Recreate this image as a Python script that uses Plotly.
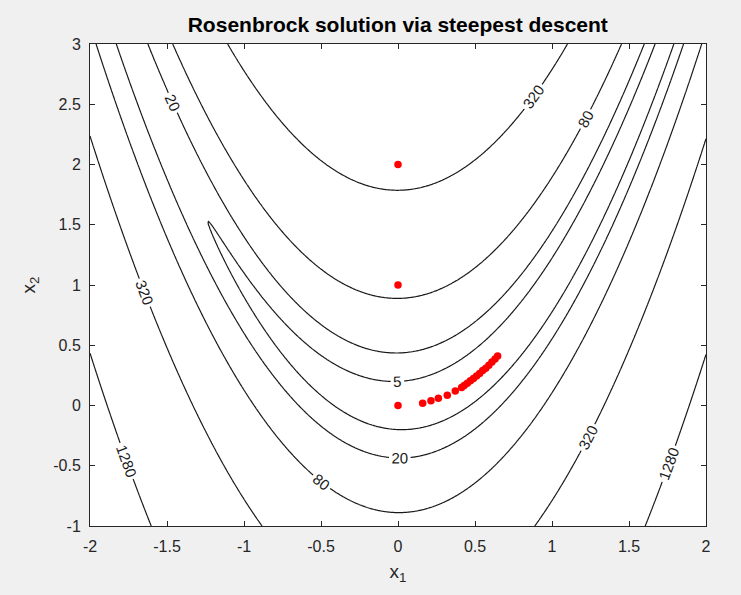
import numpy as np
import plotly.graph_objects as go

# Contour levels of the Rosenbrock function shown in the chart
levels = [5, 20, 80, 320, 1280]

# Grid for the Rosenbrock surface
x1_grid = np.linspace(-2, 2, 401)
x2_grid = np.linspace(-1, 3, 401)
X1, X2 = np.meshgrid(x1_grid, x2_grid)
Z = 100 * (X2 - X1 ** 2) ** 2 + (1 - X1) ** 2

# Red points
pts_x1 = [0.0, 0.0, 0.0, 0.16, 0.214, 0.262, 0.32, 0.372, 0.413,
          0.43, 0.45, 0.47, 0.49, 0.51, 0.53, 0.55, 0.57, 0.59, 0.61, 0.63, 0.647]
pts_x2 = [2.0, 1.0, 0.0, 0.018, 0.04, 0.06, 0.085, 0.12, 0.15,
          0.165, 0.185, 0.205, 0.225, 0.245, 0.265, 0.29, 0.31, 0.335, 0.36, 0.385, 0.41]

x_ticks = [-2, -1.5, -1, -0.5, 0, 0.5, 1, 1.5, 2]
y_ticks = [-1, -0.5, 0, 0.5, 1, 1.5, 2, 2.5, 3]

FONT = 'Liberation Sans'

fig = go.Figure()
for L in levels:
    fig.add_trace(go.Contour(
        x=x1_grid, y=x2_grid, z=Z,
        autocontour=False,
        contours=dict(start=L, end=L, size=1, coloring='lines', showlabels=True,
                      labelfont=dict(size=15, color='#1a1a1a', family=FONT)),
        colorscale=[[0, '#1a1a1a'], [1, '#1a1a1a']],
        showscale=False,
        line=dict(width=1.2),
        hoverinfo='skip',
    ))

fig.add_trace(go.Scatter(
    x=pts_x1, y=pts_x2, mode='markers',
    marker=dict(color='red', size=7.5),
    showlegend=False, hoverinfo='skip',
))

axis_common = dict(
    showgrid=False, zeroline=False, showline=True, mirror='ticks',
    linecolor='#262626', linewidth=1, ticks='inside', ticklen=5,
    tickcolor='#262626', tickfont=dict(size=16, color='#262626', family=FONT),
)

fig.update_layout(
    width=741, height=595,
    paper_bgcolor='#f0f0f0', plot_bgcolor='white',
    margin=dict(l=90, r=35, t=44, b=69),
    showlegend=False,
    title=dict(text='<b>Rosenbrock solution via steepest descent</b>',
               x=0.5368, xanchor='center', y=0.958, yanchor='middle',
               font=dict(size=21, color='black', family=FONT)),
    xaxis=dict(range=[-2, 2], tickvals=x_ticks, ticktext=[str(v) for v in x_ticks],
               ticklabelstandoff=6,
               title=dict(text='x<sub>1</sub>', font=dict(size=19, color='#262626', family=FONT), standoff=10),
               **axis_common),
    yaxis=dict(range=[-1, 3], tickvals=y_ticks, ticktext=[str(v) for v in y_ticks],
               ticklabelstandoff=5,
               title=dict(text='x<sub>2</sub>', font=dict(size=19, color='#262626', family=FONT), standoff=12),
               **axis_common),
)

fig.write_html('out.html', config={'displayModeBar': False},
               post_script="document.body.style.margin='0';")
